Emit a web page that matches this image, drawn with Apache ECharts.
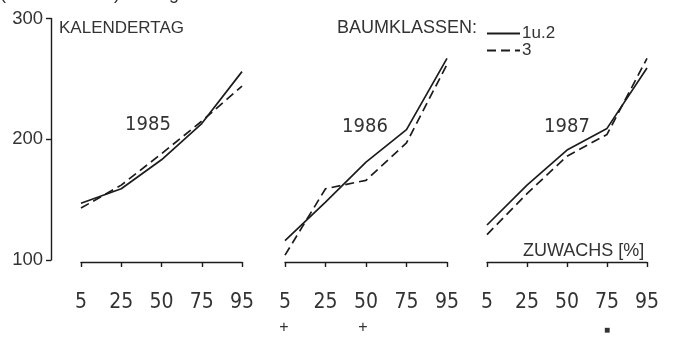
<!DOCTYPE html>
<html>
<head>
<meta charset="utf-8">
<style>
  html, body { margin: 0; padding: 0; background: #ffffff; }
  #chart { width: 675px; height: 338px; }
</style>
<script src="https://cdn.jsdelivr.net/npm/echarts@6/dist/echarts.min.js"></script>
</head>
<body>
<div id="chart"></div>
<script>
// Zuwachs-Perzentile (Kategorien der x-Achse)
const percentiles = ['5', '25', '50', '75', '95'];
const years = ['1985', '1986', '1987'];

// Kalendertag, Baumklassen 1 u. 2 (durchgezogen)
const class12_1985 = [147, 159, 183, 213, 256];
const class12_1986 = [116, 148, 181, 208, 267];
const class12_1987 = [129, 162, 191, 209, 259];

// Kalendertag, Baumklasse 3 (gestrichelt)
const class3_1985 = [143, 162, 188, 215, 244];
const class3_1986 = [104, 159, 166, 197, 262];
const class3_1987 = [121, 155, 186, 204, 267];

const yTicks = [100, 200, 300];

const solid = [class12_1985, class12_1986, class12_1987];
const dashed = [class3_1985, class3_1986, class3_1987];

const INK = '#1c1c1c';
const TEXT = '#333333';
const NARROW = '"Liberation Sans Narrow", "DejaVu Sans Condensed", sans-serif';
const SANS = '"Liberation Sans", Arial, sans-serif';

// Panels: left edge and width of each small plot
const panels = [
  { left: 81, width: 161 },
  { left: 285, width: 162 },
  { left: 487, width: 160 }
];
const gridTop = 18.5;
const gridBottom = 78;

const grids = panels.map(p => ({ left: p.left, width: p.width, top: gridTop, bottom: gridBottom }));

const xAxes = panels.map((p, i) => ({
  type: 'category',
  gridIndex: i,
  data: percentiles,
  boundaryGap: false,
  offset: 2,
  axisLine: { show: true, lineStyle: { color: INK, width: 1.4 } },
  axisTick: { show: true, inside: false, length: 5, lineStyle: { color: INK, width: 1.4 } },
  axisLabel: { margin: 30, fontFamily: NARROW, fontSize: 21, color: TEXT },
  splitLine: { show: false }
}));

const yAxes = panels.map((p, i) => ({
  type: 'value',
  gridIndex: i,
  min: yTicks[0],
  max: yTicks[yTicks.length - 1],
  interval: 100,
  show: i === 0,
  offset: 30,
  axisLine: { show: true, lineStyle: { color: INK, width: 1.4 } },
  axisTick: { show: true, length: 5, lineStyle: { color: INK, width: 1.4 } },
  axisLabel: { margin: 8, fontFamily: SANS, fontSize: 18.5, color: TEXT },
  splitLine: { show: false }
}));

const series = [];
panels.forEach((p, i) => {
  series.push({
    name: '1u.2', type: 'line', xAxisIndex: i, yAxisIndex: i,
    data: solid[i], symbol: 'none', silent: true,
    lineStyle: { color: INK, width: 1.7, type: 'solid' },
    itemStyle: { color: INK }
  });
  series.push({
    name: '3', type: 'line', xAxisIndex: i, yAxisIndex: i,
    data: dashed[i], symbol: 'none', silent: true,
    lineStyle: { color: INK, width: 1.7, type: [9, 5] },
    itemStyle: { color: INK }
  });
});

function label(text, x, y, size, family, align) {
  return {
    type: 'text', x: x, y: y, silent: true,
    style: {
      text: text, fill: TEXT, fontSize: size, fontFamily: family,
      align: align || 'center', verticalAlign: 'middle'
    }
  };
}

const yearPos = [[148, 125], [365, 127], [567, 127]];

const graphics = [
  label('(Baumklassen) bedingen', 0, -6, 18, SANS, 'left'),
  label('KALENDERTAG', 59, 28, 17, SANS, 'left'),
  label('BAUMKLASSEN:', 337, 28.5, 18, SANS, 'left'),
  label('ZUWACHS [%]', 523, 251, 18, SANS, 'left'),
  label('+', 284, 328, 16, SANS),
  label('+', 363, 328, 16, SANS),
  label('■', 607, 330, 10, SANS)
];
years.forEach((yr, i) => graphics.push(label(yr, yearPos[i][0], yearPos[i][1], 20, NARROW)));

const chart = echarts.init(document.getElementById('chart'), null, { renderer: 'canvas' });
chart.setOption({
  animation: false,
  backgroundColor: '#ffffff',
  grid: grids,
  xAxis: xAxes,
  yAxis: yAxes,
  legend: {
    data: ['1u.2', '3'],
    orient: 'vertical',
    left: 481,
    top: 20,
    itemWidth: 33,
    itemHeight: 8,
    itemGap: 0,
    selectedMode: false,
    itemStyle: { color: 'transparent', borderColor: 'transparent', opacity: 0 },
    textStyle: { fontFamily: SANS, fontSize: 17, color: TEXT, padding: [0, 0, 0, -3], lineHeight: 16 }
  },
  graphic: graphics,
  series: series
});
</script>
</body>
</html>
